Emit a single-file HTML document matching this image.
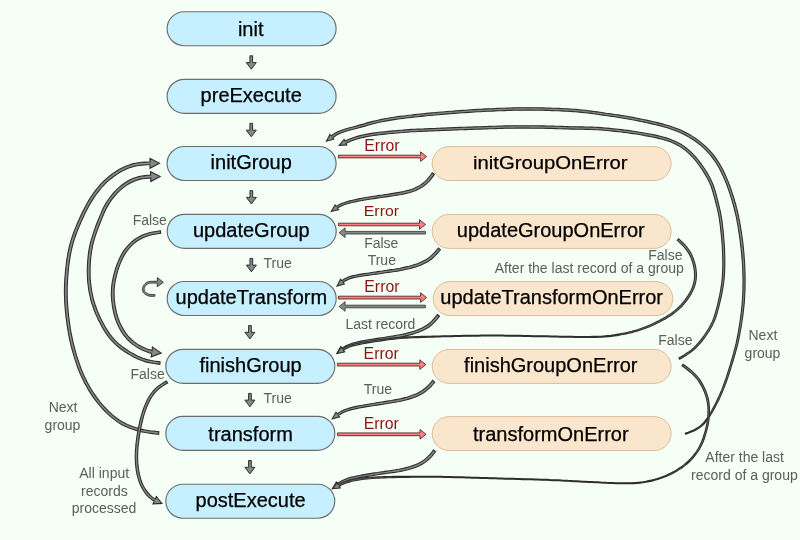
<!DOCTYPE html>
<html><head><meta charset="utf-8"><title>Transformation flow</title>
<style>
html,body{margin:0;padding:0;background:#f5fff5;}
body{width:800px;height:540px;overflow:hidden;}
svg{display:block;font-family:"Liberation Sans",sans-serif;will-change:transform;}
</style></head><body>
<svg width="800" height="540" viewBox="0 0 800 540">
<rect width="800" height="540" fill="#f5fff5"/>
<rect x="167.1" y="11.7" width="169" height="34" rx="17.2" ry="17.2" fill="#c6efff" stroke="#6c6c6c" stroke-width="1.15"/>
<rect x="167.1" y="79.3" width="169" height="34" rx="17.2" ry="17.2" fill="#c6efff" stroke="#6c6c6c" stroke-width="1.15"/>
<rect x="167.1" y="146.5" width="169" height="34" rx="17.2" ry="17.2" fill="#c6efff" stroke="#6c6c6c" stroke-width="1.15"/>
<rect x="167.2" y="214.3" width="169" height="34" rx="17.2" ry="17.2" fill="#c6efff" stroke="#6c6c6c" stroke-width="1.15"/>
<rect x="167.2" y="281.5" width="169" height="34" rx="17.2" ry="17.2" fill="#c6efff" stroke="#6c6c6c" stroke-width="1.15"/>
<rect x="165.8" y="349.3" width="169" height="34" rx="17.2" ry="17.2" fill="#c6efff" stroke="#6c6c6c" stroke-width="1.15"/>
<rect x="165.8" y="416.4" width="169" height="34" rx="17.2" ry="17.2" fill="#c6efff" stroke="#6c6c6c" stroke-width="1.15"/>
<rect x="165.8" y="484.2" width="169" height="34" rx="17.2" ry="17.2" fill="#c6efff" stroke="#6c6c6c" stroke-width="1.15"/>
<rect x="432.2" y="146.6" width="238.9" height="34" rx="17" ry="17" fill="#fae6cd" stroke="#dbbd9a" stroke-width="1"/>
<rect x="432.2" y="214.4" width="238.9" height="34" rx="17" ry="17" fill="#fae6cd" stroke="#dbbd9a" stroke-width="1"/>
<rect x="433.2" y="281.6" width="239.6" height="34" rx="17" ry="17" fill="#fae6cd" stroke="#dbbd9a" stroke-width="1"/>
<rect x="432.2" y="349.4" width="238.9" height="34" rx="17" ry="17" fill="#fae6cd" stroke="#dbbd9a" stroke-width="1"/>
<rect x="432.2" y="416.6" width="238.9" height="34" rx="17" ry="17" fill="#fae6cd" stroke="#dbbd9a" stroke-width="1"/>
<text x="250.7" y="35.9" font-size="20" fill="#000" text-anchor="middle" stroke="#000" stroke-width="0.25">init</text>
<text x="251.2" y="101.7" font-size="20" fill="#000" text-anchor="middle" stroke="#000" stroke-width="0.25">preExecute</text>
<text x="251.2" y="168.9" font-size="20" fill="#000" text-anchor="middle" stroke="#000" stroke-width="0.25">initGroup</text>
<text x="251.3" y="236.7" font-size="20" fill="#000" text-anchor="middle" stroke="#000" stroke-width="0.25">updateGroup</text>
<text x="251.3" y="303.9" font-size="20" fill="#000" text-anchor="middle" stroke="#000" stroke-width="0.25">updateTransform</text>
<text x="250.6" y="371.7" font-size="20" fill="#000" text-anchor="middle" stroke="#000" stroke-width="0.25">finishGroup</text>
<text x="250.6" y="440.7" font-size="20" fill="#000" text-anchor="middle" stroke="#000" stroke-width="0.25">transform</text>
<text x="250.6" y="506.6" font-size="20" fill="#000" text-anchor="middle" stroke="#000" stroke-width="0.25">postExecute</text>
<text x="550.2" y="168.9" font-size="19.2" fill="#000" text-anchor="middle" stroke="#000" stroke-width="0.25" textLength="154.5" lengthAdjust="spacingAndGlyphs">initGroupOnError</text>
<text x="550.8" y="236.7" font-size="20" fill="#000" text-anchor="middle" stroke="#000" stroke-width="0.25">updateGroupOnError</text>
<text x="551.7" y="303.9" font-size="20" fill="#000" text-anchor="middle" stroke="#000" stroke-width="0.25">updateTransformOnError</text>
<text x="550.8" y="371.7" font-size="20" fill="#000" text-anchor="middle" stroke="#000" stroke-width="0.25">finishGroupOnError</text>
<text x="550.8" y="440.7" font-size="20" fill="#000" text-anchor="middle" stroke="#000" stroke-width="0.25">transformOnError</text>
<path d="M249.9 55.8L249.9 62.6L246.3 62.6L251.3 69.2L256.3 62.6L252.6 62.6L252.6 55.8Z" fill="#878787" stroke="#2e2e2e" stroke-width="1.0"/>
<path d="M249.9 123.3L249.9 130.2L246.3 130.2L251.3 136.8L256.3 130.2L252.6 130.2L252.6 123.3Z" fill="#878787" stroke="#2e2e2e" stroke-width="1.0"/>
<path d="M250 190.6L250 197.4L246.4 197.4L251.4 204L256.4 197.4L252.7 197.4L252.7 190.6Z" fill="#878787" stroke="#2e2e2e" stroke-width="1.0"/>
<path d="M250 258.4L250 265.1L246.4 265.1L251.4 271.8L256.4 265.1L252.7 265.1L252.7 258.4Z" fill="#878787" stroke="#2e2e2e" stroke-width="1.0"/>
<path d="M248.6 325.6L248.6 332.3L244.9 332.3L249.9 338.9L254.9 332.3L251.3 332.3L251.3 325.6Z" fill="#878787" stroke="#2e2e2e" stroke-width="1.0"/>
<path d="M248.6 393.4L248.6 400.1L244.9 400.1L249.9 406.8L254.9 400.1L251.3 400.1L251.3 393.4Z" fill="#878787" stroke="#2e2e2e" stroke-width="1.0"/>
<path d="M248.6 460.5L248.6 467.3L244.9 467.3L249.9 473.9L254.9 467.3L251.3 467.3L251.3 460.5Z" fill="#878787" stroke="#2e2e2e" stroke-width="1.0"/>
<path d="M338.5 157.9L420.6 157.9L420.6 161.4L426.6 156.6L420.6 151.8L420.6 155.2L338.5 155.2Z" fill="#ff8080" stroke="#300c0c" stroke-width="0.75"/>
<path d="M338.5 225.8L419.5 225.8L419.5 229.3L425.5 224.5L419.5 219.7L419.5 223.2L338.5 223.2Z" fill="#ff8080" stroke="#300c0c" stroke-width="0.75"/>
<path d="M338.5 299L420.6 299L420.6 302.4L426.6 297.6L420.6 292.8L420.6 296.2L338.5 296.2Z" fill="#ff8080" stroke="#300c0c" stroke-width="0.75"/>
<path d="M337.6 366L419.8 366L419.8 369.4L425.8 364.6L419.8 359.8L419.8 363.2L337.6 363.2Z" fill="#ff8080" stroke="#300c0c" stroke-width="0.75"/>
<path d="M337.6 435.7L420 435.7L420 439.1L426 434.3L420 429.5L420 432.9L337.6 432.9Z" fill="#ff8080" stroke="#300c0c" stroke-width="0.75"/>
<path d="M425.4 231.4L345.1 231.4L345.1 227.9L339.1 232.7L345.1 237.5L345.1 234L425.4 234Z" fill="#878787" stroke="#2e2e2e" stroke-width="0.8"/>
<path d="M425.4 305.2L345.1 305.2L345.1 301.7L339.1 306.5L345.1 311.3L345.1 307.8L425.4 307.8Z" fill="#878787" stroke="#2e2e2e" stroke-width="0.8"/>
<path d="M432.2 172.8L430.5 175.3L428.7 177.7L426.8 179.9L424.7 181.9L422.4 183.7L420 185.4L417.5 186.8L414.8 188.1L412.1 189.2L409.3 190.1L406.4 190.8L403.5 191.5L400.5 192.1L397.6 192.6L394.6 193.1L391.6 193.6L388.6 194.1L385.6 194.5L382.6 195L379.6 195.4L376.6 195.9L373.6 196.3L370.6 196.8L367.6 197.3L364.6 197.8L361.6 198.3L358.6 198.9L355.7 199.5L352.7 200.2L349.7 200.9L346.7 201.7L343.8 202.7L340.9 203.8L338.2 205.3L336.3 206.4L335.1 204.9L331.3 211.5L338.7 209.7L337.4 208.2L339.2 207.1L341.8 205.7L344.5 204.6L347.3 203.7L350.2 203L353.2 202.3L356.1 201.6L359.1 201L362 200.5L365 200L368 199.5L371 199L374 198.6L376.9 198.1L379.9 197.7L382.9 197.3L385.9 196.9L389 196.4L392 196L395 195.5L398 195L401 194.5L404 193.9L407 193.2L410 192.5L412.9 191.5L415.8 190.4L418.6 189.1L421.4 187.6L424 185.8L426.4 183.9L428.7 181.7L430.8 179.3L432.6 176.9L434.4 174.4Z" fill="#878787" stroke="#2e2e2e" stroke-width="1.1" stroke-linejoin="miter"/>
<path d="M438.4 248L436.4 250.3L434.5 252.6L432.4 254.7L430.2 256.6L427.9 258.4L425.4 260L422.8 261.3L420.2 262.6L417.4 263.7L414.6 264.6L411.7 265.5L408.9 266.3L405.9 266.9L403 267.6L400.1 268.2L397.1 268.7L394.1 269.2L391.1 269.6L388.2 270.1L385.2 270.5L382.2 271L379.2 271.4L376.2 271.9L373.2 272.3L370.2 272.8L367.2 273.2L364.2 273.6L361.2 274.1L358.2 274.6L355.2 275.2L352.2 275.9L349.2 276.8L346.3 278L343.6 279.5L341.8 280.7L340.5 279.3L337 286L344.3 283.9L343 282.4L344.7 281.3L347.2 279.9L349.9 278.8L352.7 277.9L355.6 277.3L358.6 276.7L361.5 276.3L364.5 275.8L367.5 275.4L370.5 275L373.5 274.5L376.5 274.1L379.5 273.7L382.5 273.2L385.5 272.8L388.5 272.4L391.5 272L394.5 271.5L397.5 271.1L400.5 270.5L403.5 270L406.5 269.3L409.4 268.7L412.4 267.9L415.4 267L418.3 266L421.2 264.9L424 263.6L426.7 262.2L429.4 260.5L431.9 258.7L434.2 256.6L436.4 254.4L438.4 252.1L440.4 249.8Z" fill="#878787" stroke="#2e2e2e" stroke-width="1.1" stroke-linejoin="miter"/>
<path d="M437.3 314.6L435.5 316.9L433.6 319.2L431.6 321.3L429.5 323.3L427.2 325L424.7 326.5L422.1 327.9L419.5 329.1L416.7 330.2L413.9 331.2L411.1 332L408.2 332.8L405.3 333.6L402.4 334.2L399.5 334.8L396.6 335.3L393.6 335.9L390.7 336.3L387.7 336.8L384.7 337.3L381.7 337.7L378.8 338.1L375.8 338.6L372.8 339.1L369.8 339.5L366.9 340L363.9 340.6L360.9 341.1L358 341.8L355 342.5L352 343.3L349.1 344.4L346.3 345.6L343.6 347.2L341.9 348.3L340.7 346.8L337 353.5L344.4 351.5L343.1 350L344.7 348.9L347.3 347.5L349.9 346.3L352.7 345.3L355.5 344.5L358.4 343.9L361.3 343.3L364.3 342.7L367.2 342.2L370.2 341.7L373.2 341.3L376.1 340.8L379.1 340.4L382.1 340L385.1 339.6L388 339.1L391 338.7L394 338.2L397 337.7L400 337.2L402.9 336.6L405.9 335.9L408.8 335.2L411.8 334.4L414.7 333.5L417.6 332.5L420.4 331.4L423.2 330.2L426 328.8L428.7 327.2L431.2 325.3L433.5 323.2L435.6 321L437.6 318.6L439.5 316.2Z" fill="#878787" stroke="#2e2e2e" stroke-width="1.1" stroke-linejoin="miter"/>
<path d="M432.7 380.4L430.8 382.7L428.8 384.9L426.8 387L424.6 388.8L422.2 390.5L419.7 392L417.1 393.4L414.5 394.6L411.7 395.6L408.9 396.5L406.1 397.4L403.2 398.1L400.3 398.8L397.4 399.4L394.5 399.9L391.6 400.5L388.6 400.9L385.7 401.4L382.7 401.9L379.8 402.3L376.8 402.8L373.8 403.3L370.9 403.7L367.9 404.2L364.9 404.7L362 405.3L359 405.8L356.1 406.4L353.1 407.1L350.2 407.9L347.3 408.8L344.4 409.8L341.6 411.1L338.9 412.6L337.2 413.8L336 412.2L332.2 418.8L339.6 417L338.4 415.5L340 414.4L342.5 413L345.2 411.8L347.9 410.8L350.8 409.9L353.6 409.2L356.5 408.6L359.4 408L362.4 407.4L365.3 406.9L368.3 406.4L371.2 406L374.2 405.5L377.1 405.1L380.1 404.6L383.1 404.2L386 403.7L389 403.3L392 402.8L394.9 402.3L397.9 401.8L400.9 401.2L403.8 400.5L406.8 399.8L409.7 398.9L412.6 398L415.4 396.9L418.2 395.7L421 394.3L423.6 392.7L426.2 390.9L428.6 388.9L430.8 386.8L432.8 384.5L434.7 382.2Z" fill="#878787" stroke="#2e2e2e" stroke-width="1.1" stroke-linejoin="miter"/>
<path d="M433.5 449.9L431.7 452.3L429.8 454.6L427.8 456.7L425.7 458.7L423.4 460.4L420.9 462L418.3 463.4L415.6 464.6L412.9 465.6L410.1 466.6L407.2 467.4L404.3 468.1L401.3 468.7L398.4 469.3L395.4 469.8L392.5 470.2L389.5 470.7L386.5 471.1L383.5 471.6L380.5 472L377.5 472.5L374.5 472.9L371.5 473.4L368.5 473.9L365.5 474.4L362.5 474.9L359.6 475.5L356.6 476.1L353.6 476.7L350.6 477.4L347.6 478.3L344.7 479.4L341.9 480.8L339.3 482.3L337.5 483.5L336.3 482L332.5 488.6L339.9 486.8L338.7 485.2L340.4 484.1L342.9 482.6L345.6 481.4L348.3 480.3L351.2 479.5L354.1 478.8L357 478.2L360 477.6L362.9 477.1L365.9 476.6L368.9 476.1L371.9 475.7L374.9 475.2L377.8 474.8L380.8 474.3L383.8 473.9L386.8 473.5L389.8 473L392.8 472.6L395.8 472.2L398.8 471.7L401.8 471.1L404.8 470.5L407.8 469.8L410.8 469L413.7 468L416.6 466.9L419.4 465.7L422.2 464.3L424.9 462.6L427.4 460.7L429.7 458.6L431.8 456.3L433.8 453.9L435.7 451.5Z" fill="#878787" stroke="#2e2e2e" stroke-width="1.1" stroke-linejoin="miter"/>
<path d="M685.7 434.3L688.5 433.2L691.3 432.1L694.1 430.9L696.8 429.6L699.4 427.9L701.8 426.1L704 424L706 421.7L707.9 419.2L709.5 416.7L711.1 414.2L712.7 411.6L714.1 408.9L715.5 406.3L716.9 403.6L718.3 400.9L719.6 398.2L720.8 395.5L722 392.7L723.2 389.9L724.3 387.1L725.4 384.3L726.4 381.5L727.4 378.7L728.4 375.8L729.3 373L730.3 370.1L731.1 367.2L732 364.4L732.9 361.5L733.8 358.6L734.6 355.7L735.4 352.8L736.2 349.9L737 347L737.7 344.1L738.4 341.2L739 338.2L739.6 335.3L740.1 332.3L740.7 329.4L741.2 326.4L741.7 323.4L742.1 320.5L742.6 317.5L743 314.5L743.3 311.5L743.7 308.5L744 305.5L744.3 302.5L744.5 299.5L744.7 296.5L744.8 293.5L745 290.5L745 287.5L745.1 284.5L745.1 281.5L745.1 278.5L745.1 275.5L745 272.5L744.9 269.4L744.8 266.4L744.6 263.4L744.4 260.4L744.2 257.4L744 254.4L743.7 251.4L743.4 248.4L743.1 245.4L742.8 242.5L742.4 239.5L742 236.5L741.6 233.5L741.1 230.5L740.6 227.6L740.1 224.6L739.6 221.6L739 218.7L738.4 215.7L737.8 212.8L737.1 209.9L736.3 206.9L735.6 204L734.7 201.1L733.9 198.2L733 195.3L732 192.5L731.1 189.6L730.1 186.8L729 184L727.9 181.1L726.8 178.4L725.6 175.6L724.3 172.8L723 170.1L721.6 167.4L720.1 164.8L718.5 162.2L716.8 159.6L715.1 157.1L713.2 154.7L711.3 152.4L709.2 150.1L707.1 147.9L704.9 145.8L702.6 143.8L700.3 141.9L697.9 140.1L695.4 138.3L692.8 136.6L690.2 135.1L687.6 133.6L684.9 132.2L682.2 130.8L679.4 129.6L676.6 128.5L673.7 127.4L670.9 126.4L668 125.5L665.1 124.7L662.2 123.9L659.3 123.1L656.3 122.4L653.4 121.7L650.5 121L647.5 120.4L644.6 119.8L641.7 119.2L638.7 118.6L635.8 118L632.8 117.4L629.8 116.9L626.9 116.3L623.9 115.8L621 115.4L618 114.9L615 114.5L612 114L609.1 113.6L606.1 113.2L603.1 112.7L600.2 112.3L597.2 111.9L594.2 111.5L591.3 111.1L588.3 110.7L585.3 110.3L582.3 110L579.3 109.7L576.3 109.4L573.3 109.2L570.3 109L567.3 108.8L564.3 108.7L561.3 108.5L558.3 108.4L555.3 108.3L552.3 108.2L549.3 108.1L546.3 108L543.3 107.9L540.3 107.9L537.3 107.8L534.3 107.8L531.3 107.8L528.3 107.7L525.3 107.8L522.2 107.8L519.2 107.8L516.2 107.8L513.2 107.9L510.2 108L507.2 108.1L504.2 108.2L501.2 108.3L498.2 108.4L495.2 108.5L492.2 108.7L489.2 108.8L486.2 108.9L483.2 109.1L480.2 109.3L477.2 109.4L474.3 109.6L471.3 109.8L468.3 110L465.3 110.2L462.3 110.4L459.3 110.6L456.3 110.8L453.3 111.1L450.3 111.3L447.3 111.5L444.3 111.8L441.3 112L438.3 112.3L435.3 112.6L432.4 112.8L429.4 113.1L426.4 113.4L423.4 113.7L420.4 114L417.4 114.3L414.4 114.6L411.5 115L408.5 115.3L405.5 115.7L402.5 116L399.5 116.4L396.5 116.8L393.6 117.2L390.6 117.7L387.6 118.2L384.7 118.8L381.7 119.4L378.7 120L375.8 120.7L372.9 121.4L370 122.1L367.1 122.9L364.2 123.8L361.3 124.6L358.4 125.4L355.5 126.2L352.6 127L349.7 127.7L346.8 128.5L343.9 129.4L341 130.4L338.2 131.6L335.4 133L332.8 134.7L331.2 135.9L330 134.5L326.4 141.2L333.7 139.2L332.6 137.8L334.2 136.7L336.6 135.1L339.2 133.8L341.9 132.6L344.6 131.7L347.5 130.8L350.3 130L353.2 129.3L356.1 128.5L359.1 127.7L361.9 126.9L364.8 126.1L367.7 125.3L370.6 124.5L373.5 123.7L376.4 123L379.3 122.3L382.2 121.7L385.1 121.1L388 120.6L391 120.1L393.9 119.6L396.9 119.2L399.8 118.8L402.8 118.4L405.8 118L408.7 117.7L411.7 117.4L414.7 117L417.7 116.7L420.7 116.4L423.6 116.1L426.6 115.8L429.6 115.5L432.6 115.2L435.6 115L438.6 114.7L441.5 114.4L444.5 114.2L447.5 113.9L450.5 113.7L453.5 113.4L456.5 113.2L459.5 113L462.4 112.8L465.4 112.6L468.4 112.4L471.4 112.2L474.4 112L477.4 111.8L480.4 111.7L483.4 111.5L486.4 111.3L489.4 111.2L492.3 111.1L495.3 110.9L498.3 110.8L501.3 110.7L504.3 110.6L507.3 110.5L510.3 110.4L513.3 110.3L516.3 110.2L519.3 110.2L522.3 110.2L525.3 110.2L528.3 110.1L531.2 110.2L534.2 110.2L537.2 110.2L540.2 110.3L543.2 110.3L546.2 110.4L549.2 110.5L552.2 110.6L555.2 110.7L558.2 110.8L561.2 110.9L564.2 111.1L567.1 111.2L570.1 111.4L573.1 111.6L576.1 111.8L579.1 112.1L582 112.4L585 112.7L588 113L590.9 113.4L593.9 113.8L596.9 114.3L599.8 114.7L602.8 115.1L605.8 115.5L608.7 116L611.7 116.4L614.7 116.8L617.6 117.3L620.6 117.7L623.5 118.2L626.5 118.7L629.4 119.2L632.4 119.8L635.3 120.3L638.2 120.9L641.2 121.5L644.1 122.1L647 122.7L649.9 123.4L652.9 124.1L655.8 124.7L658.7 125.4L661.6 126.2L664.4 127L667.3 127.8L670.1 128.7L672.9 129.7L675.7 130.7L678.4 131.8L681.2 133L683.8 134.3L686.4 135.7L689 137.1L691.5 138.7L694 140.3L696.4 142L698.8 143.8L701.1 145.7L703.3 147.6L705.4 149.6L707.5 151.8L709.5 154L711.3 156.2L713.1 158.6L714.8 161L716.5 163.5L718 166L719.5 168.6L720.8 171.2L722.1 173.9L723.4 176.6L724.5 179.3L725.7 182L726.8 184.8L727.8 187.6L728.8 190.4L729.8 193.2L730.7 196.1L731.6 198.9L732.4 201.8L733.2 204.6L734 207.5L734.7 210.4L735.4 213.3L736.1 216.2L736.7 219.2L737.2 222.1L737.8 225L738.3 228L738.7 230.9L739.2 233.9L739.6 236.8L740 239.8L740.4 242.8L740.7 245.7L741.1 248.7L741.4 251.7L741.7 254.6L741.9 257.6L742.2 260.6L742.4 263.6L742.6 266.6L742.7 269.5L742.8 272.5L742.9 275.5L743 278.5L743 281.5L743 284.5L742.9 287.5L742.9 290.4L742.8 293.4L742.6 296.4L742.4 299.4L742.2 302.4L742 305.3L741.7 308.3L741.4 311.3L741 314.3L740.6 317.2L740.2 320.2L739.8 323.1L739.3 326.1L738.8 329L738.3 332L737.8 334.9L737.2 337.9L736.6 340.8L736 343.7L735.3 346.6L734.5 349.5L733.8 352.4L733 355.3L732.2 358.1L731.3 361L730.5 363.9L729.6 366.8L728.7 369.6L727.8 372.5L726.9 375.3L726 378.2L725 381L724 383.8L722.9 386.6L721.9 389.4L720.7 392.1L719.5 394.9L718.3 397.6L717 400.3L715.7 403L714.3 405.7L712.9 408.3L711.5 410.9L710 413.5L708.5 416L706.8 418.5L705.1 420.9L703.1 423.1L701 425.2L698.7 427L696.2 428.5L693.6 429.9L690.9 431.1L688.1 432.2L685.3 433.2Z" fill="#878787" stroke="#2e2e2e" stroke-width="1.1" stroke-linejoin="miter"/>
<path d="M679.7 359.2L682.2 357.7L684.8 356.2L687.4 354.6L689.9 352.9L692.3 351L694.6 349L696.8 346.9L698.9 344.7L700.9 342.4L702.8 340.1L704.6 337.7L706.3 335.2L708 332.7L709.6 330.1L711.2 327.5L712.6 324.9L713.9 322.1L715.1 319.3L716.1 316.4L717 313.6L717.8 310.7L718.6 307.8L719.3 304.8L720 301.9L720.7 299L721.4 296.1L722 293.1L722.5 290.1L723 287.2L723.5 284.2L723.8 281.2L724.2 278.2L724.4 275.2L724.6 272.2L724.7 269.2L724.8 266.2L724.8 263.1L724.8 260.1L724.8 257.1L724.7 254.1L724.6 251.1L724.5 248.1L724.3 245.1L724.1 242.1L723.8 239.1L723.6 236.1L723.3 233.1L723 230.1L722.7 227.1L722.4 224.2L722 221.2L721.5 218.2L721 215.2L720.5 212.2L719.8 209.3L719.1 206.3L718.4 203.4L717.7 200.5L716.9 197.6L716.2 194.7L715.4 191.8L714.5 188.9L713.5 186L712.4 183.2L711.2 180.4L709.8 177.7L708.3 175L706.8 172.4L705.2 169.8L703.5 167.3L701.8 164.8L700 162.4L698.2 160L696.2 157.6L694.2 155.4L692.1 153.2L689.9 151.1L687.6 149.1L685.2 147.2L682.7 145.4L680.1 143.8L677.4 142.4L674.6 141L671.8 139.9L668.9 138.8L666 137.9L663.1 137L660.2 136.3L657.3 135.6L654.3 134.9L651.4 134.3L648.4 133.7L645.5 133.2L642.5 132.7L639.5 132.2L636.6 131.7L633.6 131.2L630.6 130.8L627.6 130.4L624.7 130L621.7 129.6L618.7 129.3L615.7 129L612.7 128.7L609.7 128.4L606.7 128.1L603.7 127.9L600.7 127.6L597.7 127.4L594.7 127.3L591.7 127.1L588.7 127L585.7 127L582.7 126.9L579.7 126.9L576.7 126.8L573.7 126.7L570.8 126.7L567.8 126.6L564.8 126.5L561.8 126.4L558.8 126.3L555.8 126.2L552.8 126.1L549.8 126L546.8 126L543.8 125.9L540.8 125.9L537.8 125.8L534.8 125.8L531.8 125.8L528.8 125.7L525.8 125.7L522.8 125.7L519.8 125.7L516.8 125.7L513.8 125.8L510.8 125.8L507.8 125.9L504.8 125.9L501.8 126L498.8 126.1L495.8 126.2L492.8 126.3L489.8 126.4L486.8 126.5L483.8 126.6L480.8 126.7L477.8 126.8L474.8 126.9L471.8 127L468.8 127.1L465.8 127.2L462.8 127.3L459.8 127.4L456.8 127.5L453.9 127.6L450.9 127.8L447.9 127.9L444.9 128L441.9 128.1L438.9 128.2L435.9 128.4L432.9 128.5L429.9 128.6L426.9 128.7L423.9 128.9L420.9 129L417.9 129.1L414.9 129.3L411.9 129.4L408.9 129.6L405.9 129.8L402.9 130.1L399.9 130.3L396.9 130.6L394 130.8L391 131.1L388 131.4L385 131.7L382 132L379 132.3L376 132.7L373 133.1L370.1 133.6L367.1 134.1L364.1 134.7L361.2 135.4L358.2 136.1L355.3 137L352.4 138L349.6 139.1L346.8 140.3L345 141.1L344.1 139.5L339.2 145.3L346.8 144.9L346 143.3L347.8 142.4L350.5 141.3L353.2 140.2L356 139.3L358.9 138.5L361.7 137.7L364.6 137.1L367.5 136.5L370.5 136L373.4 135.5L376.3 135.1L379.3 134.7L382.3 134.4L385.2 134.1L388.2 133.8L391.2 133.5L394.2 133.2L397.1 133L400.1 132.7L403.1 132.5L406.1 132.2L409.1 132L412.1 131.8L415 131.7L418 131.5L421 131.4L424 131.3L427 131.1L430 131L433 130.9L436 130.8L439 130.6L442 130.5L445 130.4L448 130.3L450.9 130.2L453.9 130L456.9 129.9L459.9 129.8L462.9 129.7L465.9 129.6L468.9 129.5L471.9 129.4L474.9 129.3L477.9 129.2L480.9 129.1L483.9 129L486.9 128.9L489.9 128.8L492.9 128.7L495.9 128.6L498.8 128.5L501.8 128.4L504.8 128.3L507.8 128.3L510.8 128.2L513.8 128.2L516.8 128.1L519.8 128.1L522.8 128.1L525.8 128.1L528.8 128.1L531.8 128.2L534.8 128.2L537.8 128.2L540.7 128.3L543.7 128.3L546.7 128.4L549.7 128.4L552.7 128.5L555.7 128.6L558.7 128.7L561.7 128.8L564.7 128.9L567.7 129L570.7 129.1L573.7 129.1L576.7 129.2L579.7 129.3L582.7 129.3L585.7 129.4L588.7 129.4L591.6 129.5L594.6 129.7L597.6 129.8L600.6 130L603.6 130.3L606.5 130.5L609.5 130.8L612.5 131.1L615.5 131.4L618.4 131.7L621.4 132L624.4 132.4L627.3 132.8L630.3 133.2L633.2 133.6L636.2 134L639.1 134.5L642.1 135L645 135.6L648 136.1L650.9 136.7L653.8 137.3L656.7 137.9L659.6 138.6L662.5 139.3L665.3 140.2L668.1 141.1L670.9 142.1L673.6 143.2L676.3 144.5L678.9 145.9L681.3 147.4L683.7 149.1L686.1 150.9L688.3 152.8L690.4 154.9L692.4 157L694.4 159.2L696.3 161.5L698.1 163.8L699.8 166.2L701.5 168.7L703.2 171.1L704.7 173.6L706.2 176.2L707.7 178.8L709 181.4L710.2 184.1L711.3 186.8L712.2 189.6L713.1 192.5L713.8 195.3L714.6 198.2L715.4 201.1L716.1 204L716.9 206.9L717.6 209.8L718.2 212.7L718.8 215.6L719.3 218.5L719.7 221.5L720.1 224.4L720.5 227.4L720.8 230.4L721.1 233.3L721.4 236.3L721.7 239.3L721.9 242.3L722.2 245.3L722.3 248.2L722.5 251.2L722.6 254.2L722.7 257.2L722.8 260.2L722.8 263.1L722.8 266.1L722.7 269.1L722.6 272.1L722.4 275.1L722.2 278L721.9 281L721.6 283.9L721.1 286.9L720.7 289.8L720.1 292.8L719.6 295.7L718.9 298.6L718.3 301.5L717.6 304.4L716.9 307.3L716.1 310.2L715.3 313.1L714.4 315.9L713.5 318.7L712.4 321.4L711.1 324.1L709.7 326.7L708.2 329.3L706.6 331.8L705 334.3L703.3 336.7L701.5 339.1L699.7 341.4L697.7 343.7L695.7 345.9L693.6 347.9L691.4 349.9L689 351.7L686.6 353.3L684.1 355L681.5 356.5L678.9 358Z" fill="#878787" stroke="#2e2e2e" stroke-width="1.1" stroke-linejoin="miter"/>
<path d="M677.3 240.3L679.5 242.3L681.6 244.4L683.7 246.5L685.6 248.8L687.4 251.1L688.9 253.6L690.3 256.2L691.4 258.9L692.4 261.7L693.2 264.5L693.8 267.4L694.3 270.3L694.5 273.2L694.6 276.2L694.4 279.1L693.9 282L693.2 284.8L692.2 287.6L691.1 290.3L689.7 292.9L688.2 295.4L686.5 297.9L684.8 300.3L682.9 302.6L681 304.9L678.9 307L676.7 309L674.4 310.9L672.1 312.7L669.6 314.4L667.1 316L664.6 317.6L662 319L659.3 320.5L656.6 321.8L654 323.1L651.2 324.4L648.5 325.6L645.7 326.7L642.9 327.8L640.1 328.8L637.3 329.7L634.4 330.5L631.5 331.3L628.6 332L625.7 332.7L622.7 333.3L619.8 333.9L616.8 334.4L613.9 334.9L610.9 335.3L607.9 335.6L604.9 335.9L601.9 336.1L599 336.2L596 336.3L592.9 336.4L589.9 336.5L586.9 336.5L583.9 336.5L580.9 336.5L577.9 336.5L574.9 336.5L571.9 336.4L568.9 336.4L565.9 336.3L562.9 336.3L559.9 336.2L556.9 336.1L553.9 336.1L550.8 336L547.8 335.9L544.8 335.9L541.8 335.8L538.8 335.8L535.8 335.7L532.8 335.7L529.8 335.6L526.8 335.6L523.8 335.5L520.8 335.4L517.7 335.4L514.7 335.3L511.7 335.3L508.7 335.2L505.7 335.2L502.7 335.1L499.7 335.1L496.7 335.1L493.7 335.1L490.7 335.1L487.7 335.1L484.6 335.1L481.6 335.1L478.6 335.2L475.6 335.2L472.6 335.2L469.6 335.3L466.6 335.3L463.6 335.4L460.6 335.5L457.6 335.5L454.5 335.6L451.5 335.7L448.5 335.7L445.5 335.8L442.5 335.9L439.5 336L436.5 336L433.5 336.1L430.5 336.2L427.5 336.3L424.5 336.3L421.5 336.4L418.4 336.5L415.4 336.6L412.4 336.7L409.4 336.8L406.4 336.9L403.4 337.1L400.4 337.3L397.4 337.5L394.4 337.8L391.4 338.1L388.4 338.5L385.4 338.9L382.4 339.3L379.4 339.7L376.4 340.1L373.5 340.6L370.5 341L367.5 341.5L364.5 342L361.6 342.5L358.6 343.1L355.6 343.7L352.7 344.4L349.7 345.3L346.9 346.4L344.1 347.8L342.3 348.8L341.1 347.1L337 353.5L344.5 352L343.2 350.2L344.9 349.2L347.5 347.9L350.3 346.8L353.1 345.9L356 345.2L358.9 344.6L361.8 344L364.8 343.4L367.7 342.9L370.7 342.4L373.7 342L376.6 341.5L379.6 341.1L382.6 340.6L385.6 340.2L388.5 339.8L391.5 339.4L394.5 339.1L397.5 338.7L400.5 338.5L403.5 338.3L406.5 338.1L409.5 338L412.5 337.8L415.5 337.7L418.5 337.6L421.5 337.5L424.5 337.4L427.5 337.3L430.5 337.2L433.5 337.1L436.5 337L439.5 336.9L442.5 336.8L445.5 336.7L448.6 336.6L451.6 336.6L454.6 336.5L457.6 336.4L460.6 336.4L463.6 336.3L466.6 336.2L469.6 336.2L472.6 336.1L475.6 336.1L478.6 336.1L481.6 336L484.6 336L487.7 336L490.7 336L493.7 336L496.7 336L499.7 336L502.7 336L505.7 336.1L508.7 336.1L511.7 336.2L514.7 336.2L517.7 336.3L520.7 336.3L523.7 336.4L526.8 336.5L529.8 336.5L532.8 336.6L535.8 336.6L538.8 336.7L541.8 336.7L544.8 336.8L547.8 336.8L550.8 336.9L553.8 337L556.8 337L559.9 337.1L562.9 337.2L565.9 337.2L568.9 337.3L571.9 337.3L574.9 337.4L577.9 337.4L580.9 337.5L583.9 337.5L586.9 337.5L590 337.5L593 337.5L596 337.4L599 337.3L602 337.2L605 337L608 336.7L611 336.4L614 336L617 335.6L620 335L623 334.5L625.9 333.9L628.9 333.3L631.8 332.6L634.7 331.8L637.6 331L640.5 330.1L643.4 329.1L646.2 328L649 326.9L651.8 325.7L654.6 324.4L657.3 323.1L660 321.8L662.7 320.3L665.3 318.9L667.9 317.3L670.5 315.7L673 314L675.4 312.1L677.8 310.2L680 308.1L682.2 306L684.2 303.7L686.1 301.3L687.9 298.9L689.6 296.4L691.2 293.7L692.6 291L693.9 288.2L694.9 285.3L695.7 282.3L696.2 279.3L696.4 276.2L696.4 273.1L696.1 270.1L695.7 267L695 264L694.2 261.1L693.2 258.2L692 255.3L690.6 252.6L689 250L687.2 247.5L685.2 245.2L683.1 243L680.9 240.8L678.7 238.7Z" fill="#878787" stroke="#2e2e2e" stroke-width="1.1" stroke-linejoin="miter"/>
<path d="M681.9 365.8L684.4 367.5L686.7 369.3L689.1 371.2L691.4 373.1L693.5 375.1L695.5 377.2L697.4 379.5L699.1 381.9L700.6 384.4L702.1 387L703.4 389.7L704.5 392.4L705.5 395.2L706.4 398L707 400.9L707.5 403.8L707.8 406.7L707.9 409.7L707.9 412.7L707.8 415.6L707.6 418.6L707.2 421.5L706.7 424.5L706 427.4L705.3 430.3L704.5 433.1L703.6 436L702.7 438.8L701.6 441.6L700.4 444.3L699.1 447L697.6 449.5L696 452L694.2 454.4L692.4 456.7L690.4 458.9L688.3 461L686 463L683.8 464.9L681.4 466.7L678.9 468.3L676.4 469.9L673.8 471.4L671.2 472.8L668.5 474.1L665.8 475.4L663 476.5L660.2 477.5L657.4 478.4L654.5 479.3L651.6 480L648.7 480.6L645.8 481.2L642.8 481.7L639.8 482.1L636.9 482.4L633.9 482.6L630.9 482.8L627.9 482.8L624.9 482.8L621.9 482.8L618.9 482.7L615.9 482.7L612.9 482.6L609.9 482.5L606.9 482.4L603.9 482.2L600.9 482.1L597.9 481.9L594.9 481.8L591.9 481.6L588.9 481.5L585.9 481.3L582.9 481.2L579.9 481L576.9 480.8L573.9 480.7L570.9 480.5L567.9 480.4L564.9 480.2L561.9 480.1L558.9 479.9L555.9 479.8L552.9 479.7L549.9 479.6L546.9 479.4L543.9 479.3L540.9 479.2L537.9 479.1L534.9 479L531.9 478.9L528.9 478.9L525.9 478.8L522.9 478.7L519.9 478.6L516.9 478.5L513.8 478.4L510.8 478.4L507.8 478.3L504.8 478.2L501.8 478.1L498.8 478L495.8 477.9L492.8 477.8L489.8 477.7L486.8 477.6L483.8 477.5L480.8 477.5L477.8 477.4L474.8 477.3L471.8 477.2L468.8 477.1L465.8 477L462.8 476.9L459.8 476.8L456.8 476.7L453.8 476.7L450.8 476.6L447.8 476.5L444.8 476.5L441.8 476.4L438.8 476.4L435.8 476.4L432.7 476.4L429.7 476.4L426.7 476.3L423.7 476.3L420.7 476.3L417.7 476.3L414.7 476.3L411.7 476.3L408.7 476.3L405.7 476.3L402.7 476.3L399.7 476.4L396.7 476.4L393.7 476.4L390.7 476.5L387.7 476.5L384.7 476.6L381.7 476.7L378.6 476.8L375.6 477L372.6 477.1L369.6 477.3L366.6 477.6L363.6 477.9L360.6 478.2L357.6 478.7L354.6 479.2L351.7 479.8L348.7 480.6L345.8 481.5L343 482.5L340.2 483.7L338.3 484.6L337.3 482.7L332.5 488.6L340.1 488L339.1 486.1L340.9 485.2L343.6 484L346.3 483L349.2 482.1L352 481.3L354.9 480.7L357.9 480.1L360.8 479.7L363.8 479.3L366.8 479L369.7 478.7L372.7 478.5L375.7 478.3L378.7 478.1L381.7 478L384.7 477.9L387.7 477.8L390.7 477.7L393.7 477.6L396.7 477.5L399.7 477.5L402.7 477.4L405.7 477.4L408.7 477.4L411.7 477.3L414.7 477.3L417.7 477.3L420.7 477.3L423.7 477.3L426.7 477.2L429.7 477.3L432.7 477.3L435.8 477.3L438.8 477.3L441.8 477.3L444.8 477.4L447.8 477.4L450.8 477.5L453.8 477.6L456.8 477.6L459.8 477.7L462.8 477.8L465.8 477.9L468.8 478L471.8 478.1L474.8 478.2L477.8 478.3L480.8 478.4L483.8 478.4L486.8 478.5L489.8 478.6L492.8 478.7L495.8 478.8L498.8 478.9L501.8 479L504.8 479.1L507.8 479.2L510.8 479.3L513.8 479.3L516.8 479.4L519.8 479.5L522.8 479.6L525.8 479.7L528.8 479.8L531.8 479.8L534.8 479.9L537.8 480L540.9 480.1L543.9 480.2L546.9 480.3L549.9 480.5L552.9 480.6L555.9 480.7L558.9 480.8L561.9 481L564.9 481.1L567.9 481.3L570.9 481.4L573.9 481.6L576.9 481.7L579.9 481.9L582.9 482.1L585.9 482.2L588.9 482.4L591.9 482.5L594.9 482.7L597.9 482.8L600.9 483L603.9 483.1L606.9 483.3L609.9 483.4L612.9 483.5L615.9 483.6L618.9 483.7L621.9 483.7L624.9 483.8L627.9 483.8L630.9 483.7L633.9 483.6L637 483.4L640 483.1L643 482.7L645.9 482.2L648.9 481.7L651.9 481.1L654.8 480.3L657.7 479.5L660.6 478.6L663.4 477.6L666.2 476.4L669 475.2L671.7 473.9L674.4 472.5L677 471L679.6 469.4L682.1 467.7L684.5 465.9L686.9 464L689.2 462L691.3 459.8L693.4 457.6L695.3 455.2L697.1 452.8L698.8 450.3L700.4 447.6L701.7 444.9L703 442.2L704.1 439.3L705 436.5L705.9 433.6L706.7 430.7L707.5 427.7L708.2 424.8L708.7 421.8L709.1 418.8L709.4 415.7L709.5 412.7L709.5 409.7L709.4 406.6L709.1 403.6L708.7 400.6L708 397.6L707.1 394.7L706.1 391.8L704.9 389L703.6 386.2L702.2 383.5L700.6 380.9L698.8 378.4L696.9 376L694.8 373.8L692.6 371.7L690.3 369.7L687.9 367.8L685.5 366L683.1 364.2Z" fill="#878787" stroke="#2e2e2e" stroke-width="1.1" stroke-linejoin="miter"/>
<path d="M158.9 431.7L155.9 431.4L152.9 431L150 430.7L147.1 430.2L144.1 429.7L141.3 429.1L138.4 428.3L135.5 427.5L132.7 426.6L130 425.6L127.3 424.4L124.6 423.1L122.1 421.7L119.6 420.2L117.2 418.5L114.8 416.7L112.6 414.8L110.4 412.8L108.2 410.8L106.1 408.7L104.1 406.5L102.1 404.3L100.2 402L98.4 399.7L96.6 397.4L94.9 394.9L93.2 392.5L91.6 390L90.1 387.4L88.6 384.8L87.2 382.2L85.9 379.6L84.6 376.9L83.4 374.2L82.2 371.4L81.1 368.7L80.1 365.9L79.1 363.1L78.1 360.3L77.2 357.4L76.3 354.6L75.5 351.7L74.7 348.8L74 345.9L73.2 343L72.6 340.1L72 337.2L71.4 334.3L70.8 331.4L70.3 328.4L69.9 325.5L69.5 322.5L69.1 319.6L68.7 316.6L68.4 313.6L68.1 310.7L67.9 307.7L67.6 304.7L67.5 301.7L67.3 298.7L67.2 295.8L67.2 292.8L67.2 289.8L67.2 286.8L67.4 283.9L67.5 280.9L67.7 277.9L67.9 274.9L68.2 272L68.5 269L68.8 266L69.2 263.1L69.6 260.1L70 257.2L70.6 254.2L71.1 251.3L71.8 248.4L72.5 245.5L73.3 242.7L74.1 239.9L75.1 237L76.1 234.2L77.1 231.4L78.2 228.7L79.4 225.9L80.5 223.2L81.7 220.4L83 217.7L84.2 215L85.5 212.3L86.9 209.7L88.3 207.1L89.7 204.5L91.2 201.9L92.8 199.4L94.4 196.9L96.1 194.5L97.9 192.1L99.7 189.8L101.6 187.5L103.6 185.3L105.7 183.2L107.8 181.2L110 179.3L112.4 177.5L114.7 175.7L117.1 174.1L119.6 172.5L122.2 171.1L124.8 169.8L127.5 168.6L130.3 167.6L133 166.7L135.9 166L138.7 165.5L141.6 165.2L144.6 165L147.5 164.8L150 164.8L150 168.3L159.5 163.3L150 158.3L150 161.9L147.4 162L144.4 162.1L141.4 162.3L138.3 162.7L135.3 163.2L132.3 163.9L129.3 164.9L126.4 166L123.6 167.2L120.9 168.6L118.2 170L115.6 171.7L113 173.4L110.6 175.2L108.2 177.1L105.9 179.1L103.7 181.2L101.5 183.4L99.5 185.6L97.5 188L95.6 190.4L93.8 192.8L92.1 195.3L90.4 197.9L88.8 200.4L87.3 203.1L85.8 205.7L84.4 208.4L83 211.1L81.7 213.8L80.4 216.5L79.2 219.3L77.9 222L76.8 224.8L75.6 227.6L74.5 230.4L73.5 233.3L72.4 236.1L71.5 239L70.6 241.9L69.8 244.8L69 247.8L68.4 250.7L67.8 253.7L67.3 256.7L66.8 259.7L66.4 262.7L66.1 265.7L65.7 268.7L65.4 271.7L65.2 274.7L64.9 277.7L64.7 280.7L64.6 283.7L64.5 286.8L64.4 289.8L64.4 292.8L64.5 295.8L64.6 298.9L64.7 301.9L64.9 304.9L65.1 307.9L65.4 310.9L65.7 313.9L66 316.9L66.4 319.9L66.8 322.9L67.2 325.9L67.7 328.9L68.2 331.8L68.7 334.8L69.3 337.8L69.9 340.7L70.6 343.7L71.3 346.6L72.1 349.5L72.9 352.4L73.8 355.3L74.6 358.2L75.6 361.1L76.5 364L77.5 366.8L78.6 369.7L79.7 372.5L80.9 375.3L82.2 378L83.5 380.8L84.8 383.5L86.3 386.1L87.8 388.8L89.4 391.4L91 393.9L92.7 396.4L94.4 398.9L96.3 401.4L98.2 403.7L100.1 406L102.1 408.3L104.2 410.5L106.4 412.7L108.6 414.8L110.9 416.8L113.2 418.7L115.6 420.6L118.1 422.4L120.7 424L123.4 425.5L126.2 426.8L129 428L131.9 429.1L134.8 430L137.7 430.9L140.7 431.6L143.6 432.3L146.6 432.8L149.6 433.2L152.6 433.6L155.6 434L158.6 434.3Z" fill="#878787" stroke="#2e2e2e" stroke-width="1.1" stroke-linejoin="miter"/>
<path d="M160.1 361.7L157.2 361.4L154.2 361L151.3 360.5L148.4 359.9L145.6 359.1L142.8 358.2L140.1 357.1L137.4 355.9L134.7 354.5L132.1 353.1L129.6 351.6L127.1 350L124.6 348.3L122.2 346.6L119.9 344.8L117.6 342.9L115.5 340.8L113.5 338.7L111.6 336.4L109.8 334.1L108.2 331.6L106.6 329.2L105 326.6L103.6 324L102.2 321.4L100.8 318.7L99.6 316L98.4 313.3L97.2 310.5L96.2 307.8L95.2 305L94.3 302.1L93.5 299.3L92.8 296.4L92.2 293.5L91.6 290.6L91.2 287.6L90.8 284.7L90.5 281.7L90.2 278.8L90.1 275.8L90.1 272.8L90.1 269.8L90.1 266.9L90.3 263.9L90.5 260.9L90.7 257.9L91.1 255L91.5 252L92 249.1L92.5 246.2L93.2 243.3L94 240.4L94.8 237.6L95.7 234.7L96.7 231.9L97.7 229.1L98.8 226.3L99.8 223.5L101 220.7L102.1 217.9L103.2 215.2L104.4 212.4L105.7 209.7L107 207.1L108.5 204.6L110 202.1L111.7 199.7L113.6 197.4L115.5 195.1L117.4 192.9L119.5 190.8L121.7 188.9L124 187.1L126.4 185.4L128.9 183.8L131.4 182.4L134.1 181.2L136.8 180.2L139.6 179.4L142.4 178.8L145.3 178.5L148.3 178.2L150.8 178.1L150.8 181.6L160.2 176.5L150.6 171.6L150.6 175.2L148.1 175.3L145 175.6L141.9 176L138.9 176.6L135.9 177.4L133 178.5L130.1 179.8L127.4 181.3L124.8 183L122.3 184.8L119.9 186.7L117.6 188.8L115.4 190.9L113.3 193.2L111.4 195.6L109.5 198L107.7 200.5L106 203.1L104.5 205.8L103.1 208.5L101.9 211.3L100.7 214.1L99.5 216.9L98.3 219.7L97.2 222.5L96.1 225.3L95.1 228.1L94.1 231L93.1 233.9L92.2 236.8L91.3 239.7L90.5 242.6L89.8 245.6L89.2 248.6L88.7 251.6L88.3 254.6L88 257.7L87.7 260.7L87.5 263.7L87.4 266.8L87.3 269.8L87.3 272.8L87.4 275.9L87.5 278.9L87.7 282L88.1 285L88.5 288L88.9 291L89.5 294L90.2 297L90.9 300L91.7 302.9L92.7 305.8L93.7 308.7L94.7 311.5L95.9 314.4L97.1 317.1L98.4 319.9L99.8 322.6L101.2 325.3L102.7 327.9L104.3 330.6L105.9 333.1L107.7 335.6L109.5 338.1L111.5 340.5L113.6 342.7L115.9 344.8L118.2 346.8L120.6 348.7L123.1 350.5L125.6 352.2L128.2 353.8L130.8 355.4L133.5 356.9L136.2 358.3L139 359.5L141.9 360.6L144.8 361.6L147.8 362.4L150.8 363L153.8 363.5L156.8 363.9L159.9 364.3Z" fill="#878787" stroke="#2e2e2e" stroke-width="1.1" stroke-linejoin="miter"/>
<path d="M160.3 230.7L157.3 231.2L154.3 231.7L151.3 232.3L148.3 233L145.3 233.9L142.4 235L139.6 236.4L136.9 237.9L134.4 239.7L131.9 241.7L129.7 243.8L127.5 246L125.6 248.4L123.7 250.9L122.1 253.6L120.6 256.3L119.3 259L118.1 261.9L116.9 264.7L115.9 267.6L115 270.5L114.2 273.4L113.4 276.4L112.8 279.4L112.2 282.4L111.8 285.5L111.5 288.5L111.4 291.6L111.3 294.7L111.5 297.7L111.7 300.8L112.1 303.8L112.5 306.9L113.1 309.9L113.7 312.9L114.5 315.8L115.4 318.8L116.5 321.7L117.7 324.5L119 327.3L120.4 330L122 332.7L123.8 335.2L125.8 337.7L127.9 340L130.1 342.1L132.5 344.1L135 345.9L137.6 347.6L140.3 349.1L143.1 350.4L146 351.6L148.9 352.6L151.5 353.3L151.2 356.8L161.2 353L152.4 346.9L152.2 350.5L149.8 349.9L147 348.9L144.3 347.8L141.6 346.6L139.1 345.2L136.6 343.6L134.2 341.9L132 340L129.9 338L127.9 335.8L126.1 333.5L124.4 331.1L122.9 328.6L121.5 326.1L120.2 323.4L119.1 320.7L118.1 317.9L117.2 315.1L116.4 312.2L115.8 309.3L115.2 306.4L114.8 303.5L114.4 300.5L114.2 297.6L114.1 294.6L114.1 291.7L114.2 288.7L114.5 285.8L114.9 282.8L115.4 279.9L116.1 277L116.8 274.1L117.6 271.3L118.5 268.4L119.5 265.6L120.5 262.9L121.7 260.2L123 257.5L124.4 254.9L126 252.4L127.7 250L129.5 247.8L131.5 245.7L133.7 243.7L136 241.8L138.3 240.2L140.9 238.7L143.5 237.4L146.2 236.4L149 235.5L151.9 234.8L154.8 234.3L157.7 233.8L160.7 233.3Z" fill="#878787" stroke="#2e2e2e" stroke-width="1.1" stroke-linejoin="miter"/>
<path d="M166.4 381L163.8 382.5L161.2 384.1L158.6 385.9L156.2 387.9L154 390.1L152 392.5L150.2 395L148.6 397.6L147.1 400.3L145.8 403.1L144.6 405.9L143.5 408.8L142.5 411.7L141.6 414.6L140.8 417.5L140 420.5L139.4 423.4L138.7 426.4L138.2 429.4L137.6 432.4L137.1 435.4L136.7 438.4L136.3 441.4L135.9 444.4L135.7 447.4L135.4 450.5L135.3 453.5L135.2 456.6L135.3 459.6L135.4 462.7L135.7 465.7L136 468.8L136.5 471.8L137.1 474.8L137.9 477.8L138.7 480.7L139.8 483.6L141.1 486.5L142.6 489.2L144.2 491.8L146.1 494.3L148.2 496.6L150.5 498.7L153 500.6L154 501.1L153 503.8L161.9 503.4L156.3 496.5L155.2 499.1L154.4 498.6L152.1 496.9L149.9 494.9L148 492.7L146.2 490.4L144.6 488L143.2 485.4L142 482.7L141 480L140.2 477.1L139.5 474.3L138.9 471.4L138.4 468.4L138.1 465.5L137.8 462.5L137.7 459.5L137.6 456.6L137.7 453.6L137.8 450.6L138 447.6L138.3 444.6L138.7 441.7L139.1 438.7L139.5 435.7L140 432.8L140.5 429.8L141.1 426.9L141.7 423.9L142.4 421L143.1 418.1L143.9 415.2L144.8 412.4L145.7 409.6L146.8 406.8L148 404.1L149.3 401.4L150.7 398.8L152.2 396.3L153.9 393.9L155.8 391.7L157.8 389.6L160.1 387.8L162.5 386.1L165 384.5L167.6 383Z" fill="#878787" stroke="#2e2e2e" stroke-width="1.1" stroke-linejoin="miter"/>
<path d="M154.9 294.5L154.4 294.5L153.7 294.5L152.9 294.5L152 294.5L151.1 294.5L150.2 294.4L149.4 294.3L148.8 294.1L148.2 293.9L147.5 293.6L146.9 293.2L146.3 292.8L145.7 292.4L145.2 291.9L144.9 291.5L144.6 291.1L144.4 290.7L144.3 290.2L144.2 289.6L144.2 289.1L144.3 288.5L144.4 287.9L144.6 287.4L144.8 286.9L145.1 286.4L145.4 285.9L145.9 285.4L146.3 284.9L146.9 284.5L147.4 284.1L148.1 283.7L148.8 283.5L149.6 283.3L150.5 283.1L151.6 283.1L152.8 283L154 283.1L155.2 283.1L156.3 283.1L157.3 283.1L157.3 283.1L157.2 286.8L163.3 282.3L157.4 277.6L157.3 281.3L157.3 281.3L156.3 281.3L155.2 281.3L154 281.3L152.8 281.3L151.6 281.3L150.4 281.3L149.3 281.5L148.2 281.7L147.3 282.1L146.5 282.5L145.8 283L145.1 283.6L144.5 284.2L144 284.8L143.6 285.5L143.2 286.1L142.9 286.8L142.7 287.5L142.5 288.2L142.4 289L142.4 289.7L142.5 290.5L142.7 291.2L143 291.9L143.4 292.6L143.9 293.2L144.5 293.7L145.2 294.3L145.9 294.7L146.7 295.2L147.4 295.5L148.2 295.9L149.1 296.1L150 296.2L151 296.3L152 296.3L152.9 296.3L153.7 296.3L154.4 296.3L154.9 296.3Z" fill="#878787" stroke="#2e2e2e" stroke-width="0.9" stroke-linejoin="miter"/>
<text x="381.9" y="151" font-size="15.6" fill="#8b1414" text-anchor="middle" textLength="35.2" lengthAdjust="spacingAndGlyphs">Error</text>
<text x="381.4" y="216" font-size="14.8" fill="#8b1414" text-anchor="middle" textLength="35.2" lengthAdjust="spacingAndGlyphs">Error</text>
<text x="381.9" y="292" font-size="15.6" fill="#8b1414" text-anchor="middle" textLength="35.2" lengthAdjust="spacingAndGlyphs">Error</text>
<text x="381.2" y="359" font-size="15.6" fill="#8b1414" text-anchor="middle" textLength="35.2" lengthAdjust="spacingAndGlyphs">Error</text>
<text x="381.3" y="429" font-size="15.6" fill="#8b1414" text-anchor="middle" textLength="35.2" lengthAdjust="spacingAndGlyphs">Error</text>
<text x="381.3" y="247.6" font-size="14" fill="#5c5c5c" text-anchor="middle">False</text>
<text x="381.8" y="265" font-size="14" fill="#5c5c5c" text-anchor="middle">True</text>
<text x="380.4" y="328.5" font-size="14" fill="#5c5c5c" text-anchor="middle">Last record</text>
<text x="377.9" y="394" font-size="14" fill="#5c5c5c" text-anchor="middle">True</text>
<text x="149.8" y="224.5" font-size="14" fill="#5c5c5c" text-anchor="middle">False</text>
<text x="147.6" y="379" font-size="14" fill="#5c5c5c" text-anchor="middle">False</text>
<text x="263.5" y="267.5" font-size="14" fill="#5c5c5c" text-anchor="start">True</text>
<text x="263.5" y="402.9" font-size="14" fill="#5c5c5c" text-anchor="start">True</text>
<text x="63.1" y="412" font-size="14" fill="#5c5c5c" text-anchor="middle">Next</text>
<text x="62.5" y="429.5" font-size="14" fill="#5c5c5c" text-anchor="middle">group</text>
<text x="104.2" y="477.5" font-size="14" fill="#5c5c5c" text-anchor="middle">All input</text>
<text x="104.4" y="495.6" font-size="14" fill="#5c5c5c" text-anchor="middle">records</text>
<text x="104.1" y="512.5" font-size="14" fill="#5c5c5c" text-anchor="middle">processed</text>
<text x="665.4" y="260" font-size="14" fill="#5c5c5c" text-anchor="middle">False</text>
<text x="589.3" y="272.5" font-size="14" fill="#5c5c5c" text-anchor="middle">After the last record of a group</text>
<text x="675.4" y="345" font-size="14" fill="#5c5c5c" text-anchor="middle">False</text>
<text x="762.9" y="339.5" font-size="14" fill="#5c5c5c" text-anchor="middle">Next</text>
<text x="762.5" y="357.6" font-size="14" fill="#5c5c5c" text-anchor="middle">group</text>
<text x="744.6" y="462" font-size="14" fill="#5c5c5c" text-anchor="middle">After the last</text>
<text x="744.4" y="479.5" font-size="14" fill="#5c5c5c" text-anchor="middle">record of a group</text>
</svg>
</body></html>
